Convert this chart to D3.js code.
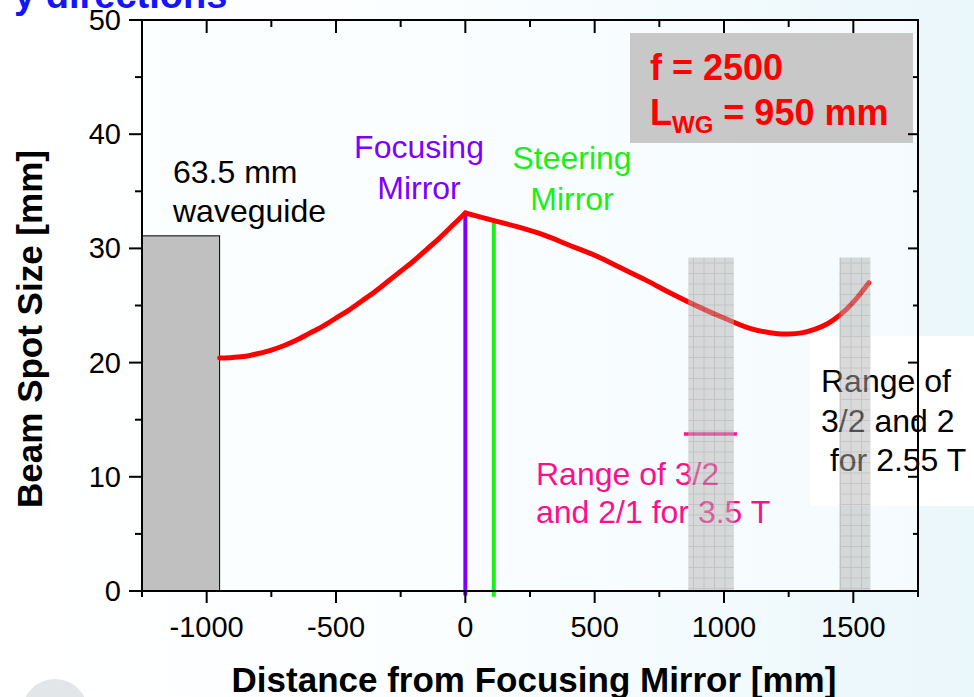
<!DOCTYPE html>
<html><head><meta charset="utf-8">
<script src="https://cdn.jsdelivr.net/npm/d3@7"></script>
<style>
html,body{margin:0;padding:0;background:#fff;}
svg{display:block;font-family:"Liberation Sans",Arial,Helvetica,sans-serif;}
</style></head>
<body>
<svg id="chart" width="974" height="697"></svg>
<script>
// ---------- data ----------
const beforeMirrorX = [-950,-900,-850,-800,-750,-700,-650,-600,-550,-500,-450,-400,-350,-300,-250,-200,-150,-100,-50,0];
const beforeMirrorW = [20.4,20.45,20.55,20.8,21.1,21.5,22.0,22.6,23.2,23.9,24.6,25.4,26.2,27.1,28.0,28.9,29.9,30.9,32.0,33.1];
const afterMirrorX = [0,100,200,300,400,500,600,700,800,900,1000,1100,1200,1250,1300,1350,1400,1450,1500,1560];
const afterMirrorW = [33.1,32.5,31.9,31.2,30.3,29.4,28.3,27.2,26.0,24.9,23.9,23.0,22.55,22.5,22.6,22.9,23.4,24.2,25.3,27.0];
const xTicksMajor = [-1000,-500,0,500,1000,1500];
const xTicksMinor = [-1250,-750,-250,250,750,1250,1750];
const yTicksMajor = [0,10,20,30,40,50];
const yTicksMinor = [5,15,25,35,45];
const xDomain = [-1250,1750];
const yDomain = [0,50];
const waveguide = {x0:-1250, x1:-950, top:31.1};
const focusingMirrorX = 0, focusingMirrorTop = 33.1;
const steeringMirrorX = 110, steeringMirrorTop = 32.3;
const ranges = [{x0:862,x1:1038,top:29.2},{x0:1446,x1:1566,top:29.2}];
const range35 = {x0:845,x1:1050,v:13.75};
const range255 = {x0:1455,x1:1550,v:21.75};

// ---------- setup ----------
const svg = d3.select("#chart");
const W = 974, H = 697;
const x = d3.scaleLinear().domain(xDomain).range([142,918]);
const y = d3.scaleLinear().domain(yDomain).range([591,20]);
const defs = svg.append("defs");
const bg = defs.append("linearGradient").attr("id","bg").attr("x1","0").attr("x2","1").attr("y1","0").attr("y2","0");
bg.append("stop").attr("offset","0").attr("stop-color","#ffffff");
bg.append("stop").attr("offset","0.45").attr("stop-color","#fbfeff");
bg.append("stop").attr("offset","1").attr("stop-color","#eaf7fb");
const pat = defs.append("pattern").attr("id","grid").attr("patternUnits","userSpaceOnUse")
  .attr("width",10.5).attr("height",10.5);
pat.append("rect").attr("width",10.5).attr("height",10.5).attr("fill","#b4b4b4");
pat.append("path").attr("d","M0,0.5H10.5M0.5,0V10.5").attr("stroke","#8c8c8c").attr("stroke-width",1);

svg.append("rect").attr("width",W).attr("height",H).attr("fill","url(#bg)");
svg.append("circle").attr("cx",55).attr("cy",712).attr("r",33).attr("fill","#e2e6e8");

// title fragment
svg.append("text").attr("x",14).attr("y",8).attr("fill","#1414ff")
  .attr("font-weight","bold").attr("font-size",38).text("y directions");

// plot area background
svg.append("rect").attr("x",x(xDomain[0])).attr("y",y(50)).attr("width",x(xDomain[1])-x(xDomain[0]))
  .attr("height",y(0)-y(50)).attr("fill","#fafeff").attr("opacity",0.6);

// waveguide block
svg.append("rect").attr("x",x(waveguide.x0)).attr("y",y(waveguide.top))
  .attr("width",x(waveguide.x1)-x(waveguide.x0)).attr("height",y(0)-y(waveguide.top))
  .attr("fill","#c0c0c0").attr("stroke","#000").attr("stroke-width",1);

// mirror lines
svg.append("line").attr("x1",x(focusingMirrorX)).attr("x2",x(focusingMirrorX))
  .attr("y1",y(-0.4)).attr("y2",y(focusingMirrorTop)).attr("stroke","#8000ff").attr("stroke-width",4);
svg.append("line").attr("x1",x(steeringMirrorX)).attr("x2",x(steeringMirrorX))
  .attr("y1",y(-0.5)).attr("y2",y(steeringMirrorTop)).attr("stroke","#18f018").attr("stroke-width",4);

// beam curve
const line = d3.line().x(d=>x(d[0])).y(d=>y(d[1])).curve(d3.curveCatmullRom);
const pts1 = beforeMirrorX.map((v,i)=>[v,beforeMirrorW[i]]);
const pts2 = afterMirrorX.map((v,i)=>[v,afterMirrorW[i]]);
svg.append("path").attr("d",line(pts1)).attr("fill","none").attr("stroke","#ff0000").attr("stroke-width",5).attr("stroke-linecap","round");
svg.append("path").attr("d",line(pts2)).attr("fill","none").attr("stroke","#ff0000").attr("stroke-width",5).attr("stroke-linecap","round");

// range markers
svg.append("line").attr("x1",x(range35.x0)).attr("x2",x(range35.x1)).attr("y1",y(range35.v)).attr("y2",y(range35.v))
  .attr("stroke","#ff1493").attr("stroke-width",3.5);
svg.append("line").attr("x1",x(range255.x0)).attr("x2",x(range255.x1)).attr("y1",y(range255.v)).attr("y2",y(range255.v))
  .attr("stroke","#555").attr("stroke-width",3.5).attr("stroke-linecap","round");

// text labels
const txt = (tx,ty,s,opts={}) => svg.append("text").attr("x",tx).attr("y",ty).text(s)
   .attr("font-size",opts.size||32).attr("fill",opts.fill||"#000")
   .attr("text-anchor",opts.anchor||"start").attr("font-weight",opts.weight||"normal")
   .attr("xml:space","preserve");
txt(173,183,"63.5 mm");
txt(173,222,"waveguide");
txt(419,158,"Focusing",{fill:"#8000ff",anchor:"middle"});
txt(419,199,"Mirror",{fill:"#8000ff",anchor:"middle"});
txt(572,169,"Steering",{fill:"#18f018",anchor:"middle"});
txt(572,210,"Mirror",{fill:"#18f018",anchor:"middle"});
txt(536,485,"Range of 3/2",{fill:"#ff0f8c"});
txt(536,523,"and 2/1 for 3.5 T",{fill:"#ff0f8c"});

// white box with black label
svg.append("rect").attr("x",810).attr("y",336).attr("width",164).attr("height",170).attr("fill","#fff");
txt(821,392,"Range of");
txt(821,432,"3/2 and 2");
txt(821,471," for 2.55 T");

// shaded resonance ranges (on top, translucent)
ranges.forEach(r=>{
  svg.append("rect").attr("x",x(r.x0)).attr("y",y(r.top)).attr("width",x(r.x1)-x(r.x0))
    .attr("height",y(0)-y(r.top)).attr("fill","url(#grid)").attr("opacity",0.5);
});

// f box
svg.append("rect").attr("x",630).attr("y",33).attr("width",283).attr("height",110).attr("fill","#c8c8c8");
txt(650,80,"f = 2500",{fill:"#ff0000",weight:"bold",size:36});
const t2 = svg.append("text").attr("x",650).attr("y",125).attr("fill","#ff0000").attr("font-weight","bold").attr("font-size",36);
t2.append("tspan").text("L");
t2.append("tspan").attr("font-size",24).attr("dy",8).text("WG");
t2.append("tspan").attr("dy",-8).text(" = 950 mm");

// axes
const ax = svg.append("g").attr("stroke","#000").attr("stroke-width",2).attr("fill","none");
ax.append("rect").attr("x",x(xDomain[0])).attr("y",y(50)).attr("width",x(xDomain[1])-x(xDomain[0])).attr("height",y(0)-y(50));
// bottom ticks (outward)
xTicksMajor.forEach(v=>ax.append("line").attr("x1",x(v)).attr("x2",x(v)).attr("y1",y(0)).attr("y2",y(0)+12));
xTicksMinor.forEach(v=>ax.append("line").attr("x1",x(v)).attr("x2",x(v)).attr("y1",y(0)).attr("y2",y(0)+6));
// top ticks (inward)
xTicksMajor.forEach(v=>ax.append("line").attr("x1",x(v)).attr("x2",x(v)).attr("y1",y(50)).attr("y2",y(50)+13));
xTicksMinor.forEach(v=>ax.append("line").attr("x1",x(v)).attr("x2",x(v)).attr("y1",y(50)).attr("y2",y(50)+7));
// left ticks (outward)
yTicksMajor.forEach(v=>ax.append("line").attr("x1",x(xDomain[0])-13).attr("x2",x(xDomain[0])).attr("y1",y(v)).attr("y2",y(v)));
yTicksMinor.forEach(v=>ax.append("line").attr("x1",x(xDomain[0])-7).attr("x2",x(xDomain[0])).attr("y1",y(v)).attr("y2",y(v)));
// right ticks (inward)
yTicksMajor.forEach(v=>ax.append("line").attr("x1",x(xDomain[1])-10).attr("x2",x(xDomain[1])).attr("y1",y(v)).attr("y2",y(v)));
yTicksMinor.forEach(v=>ax.append("line").attr("x1",x(xDomain[1])-5).attr("x2",x(xDomain[1])).attr("y1",y(v)).attr("y2",y(v)));

// tick labels
xTicksMajor.forEach(v=>svg.append("text").attr("x",x(v)).attr("y",637).attr("text-anchor","middle")
  .attr("font-size",29).attr("fill","#000").text(v));
yTicksMajor.forEach(v=>svg.append("text").attr("x",121).attr("y",y(v)+10).attr("text-anchor","end")
  .attr("font-size",29).attr("fill","#000").text(v));

// axis titles
svg.append("text").attr("x",534).attr("y",692).attr("text-anchor","middle").attr("font-weight","bold")
  .attr("font-size",35).attr("fill","#000").text("Distance from Focusing Mirror [mm]");
svg.append("text").attr("transform","translate(42,329) rotate(-90)").attr("text-anchor","middle").attr("font-weight","bold")
  .attr("font-size",35).attr("fill","#000").text("Beam Spot Size [mm]");
</script>
</body></html>
